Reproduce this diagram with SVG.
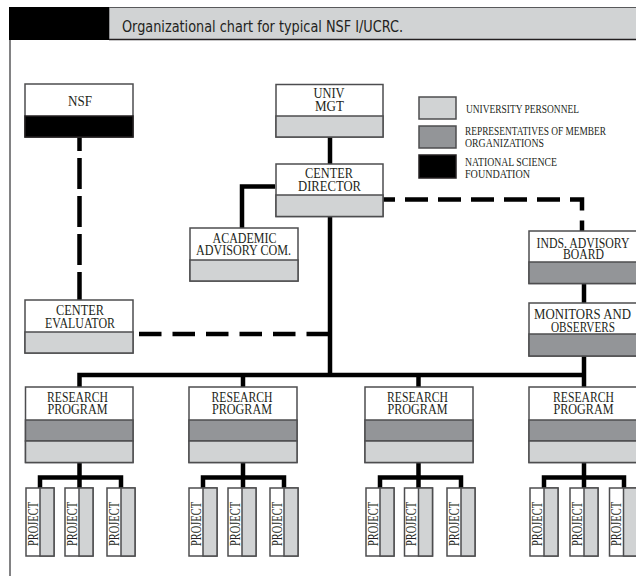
<svg xmlns="http://www.w3.org/2000/svg" width="636" height="576" viewBox="0 0 636 576">
<style>
.bg{fill:#fff}
.box{fill:#fff;stroke:#4d4d4f;stroke-width:1.5}
.lg{fill:#d1d3d4;stroke:#4d4d4f;stroke-width:1.5}
.dg{fill:#939598;stroke:#4d4d4f;stroke-width:1.5}
.bk{fill:#000;stroke:#231f20;stroke-width:1.5}
.lbl{font-family:"Liberation Serif","Times New Roman",serif;font-size:15px;fill:#231f20;text-anchor:middle}
.leg{font-family:"Liberation Serif","Times New Roman",serif;font-size:12px;fill:#231f20}
.prj{font-family:"Liberation Serif","Times New Roman",serif;font-size:14.5px;fill:#231f20;text-anchor:middle}
.ln{fill:none;stroke:#000;stroke-width:4.5}
.dsh{fill:none;stroke:#000;stroke-width:4.5}
.title{font-family:"Liberation Sans Narrow","DejaVu Sans Condensed","Liberation Sans",sans-serif;font-size:16px;fill:#231f20}
</style>
<rect class="bg" x="0" y="0" width="636" height="576"/>
<g id="header">
  <rect x="109" y="7.5" width="530" height="32" fill="#d1d3d4" stroke="#58595b" stroke-width="1"/>
  <line x1="109" y1="39.5" x2="636" y2="39.5" stroke="#231f20" stroke-width="1.5"/>
  <rect x="9" y="7" width="100" height="33" fill="#000"/>
  <text class="title" x="122" y="32" textLength="281" lengthAdjust="spacingAndGlyphs">Organizational chart for typical NSF I/UCRC.</text>
  <line x1="10" y1="40" x2="10" y2="576" stroke="#58595b" stroke-width="1.5"/>
</g>
<g id="connectors">
  <path class="ln" d="M330 137V164"/>
  <path class="ln" d="M275 186.5H242V228"/>
  <path class="ln" d="M330 216V375"/>
  <path class="ln" d="M79.5 387V375H584"/>
  <path class="ln" d="M243 375V387"/>
  <path class="ln" d="M418.5 375V387"/>
  <path class="ln" d="M584 283V303"/>
  <path class="ln" d="M584 356V387"/>
  <path class="dsh" d="M79.5 137V300" stroke-dasharray="31 7" stroke-dashoffset="17"/>
  <path class="dsh" d="M139 334H330" stroke-dasharray="22.5 11"/>
  <path class="dsh" d="M383 199.5H582V231" stroke-dasharray="23 10" stroke-dashoffset="11" stroke-linejoin="miter"/>
  <path class="ln" d="M79.5 462V488M40 488V477.5H121V488"/>
  <path class="ln" d="M243 462V488M203 488V477.5H284V488"/>
  <path class="ln" d="M418.5 462V488M380 488V477.5H461V488"/>
  <path class="ln" d="M584 462V488M544 488V477.5H624V488"/>
</g>
<g id="legend">
  <rect class="lg" x="419" y="97" width="37" height="22"/>
  <rect class="dg" x="419" y="126" width="37" height="22"/>
  <rect class="bk" x="419" y="155" width="37" height="23"/>
  <text class="leg" x="466" y="113.3" textLength="113" lengthAdjust="spacingAndGlyphs">UNIVERSITY PERSONNEL</text>
  <text class="leg" x="465" y="135" textLength="141" lengthAdjust="spacingAndGlyphs">REPRESENTATIVES OF MEMBER</text>
  <text class="leg" x="465" y="147.3" textLength="79" lengthAdjust="spacingAndGlyphs">ORGANIZATIONS</text>
  <text class="leg" x="465" y="165.7" textLength="92" lengthAdjust="spacingAndGlyphs">NATIONAL SCIENCE</text>
  <text class="leg" x="465" y="178.3" textLength="65" lengthAdjust="spacingAndGlyphs">FOUNDATION</text>
</g>
<g id="nsf">
  <rect class="box" x="25" y="84" width="108" height="53"/>
  <rect class="bk" x="25" y="116" width="108" height="21"/>
  <text class="lbl" x="80" y="106" textLength="24" lengthAdjust="spacingAndGlyphs">NSF</text>
</g>
<g id="univ-mgt">
  <rect class="box" x="276" y="84.5" width="107" height="52.5"/>
  <rect class="lg" x="276" y="116" width="107" height="21"/>
  <text class="lbl" x="329" y="98" textLength="31" lengthAdjust="spacingAndGlyphs">UNIV</text>
  <text class="lbl" x="329.5" y="111" textLength="29" lengthAdjust="spacingAndGlyphs">MGT</text>
</g>
<g id="center-director">
  <rect class="box" x="276" y="164" width="107" height="52.5"/>
  <rect class="lg" x="276" y="195" width="107" height="21.5"/>
  <text class="lbl" x="329" y="178" textLength="48" lengthAdjust="spacingAndGlyphs">CENTER</text>
  <text class="lbl" x="329.5" y="190.5" textLength="63" lengthAdjust="spacingAndGlyphs">DIRECTOR</text>
</g>
<g id="academic-advisory">
  <rect class="box" x="190" y="228" width="108" height="53"/>
  <rect class="lg" x="190" y="260" width="108" height="21"/>
  <text class="lbl" x="244.5" y="243" textLength="64" lengthAdjust="spacingAndGlyphs">ACADEMIC</text>
  <text class="lbl" x="243.5" y="255" textLength="95" lengthAdjust="spacingAndGlyphs">ADVISORY COM.</text>
</g>
<g id="center-evaluator">
  <rect class="box" x="25" y="300" width="108" height="53"/>
  <rect class="lg" x="25" y="332" width="108" height="21"/>
  <text class="lbl" x="80" y="315" textLength="48" lengthAdjust="spacingAndGlyphs">CENTER</text>
  <text class="lbl" x="80" y="328" textLength="70" lengthAdjust="spacingAndGlyphs">EVALUATOR</text>
</g>
<g id="industry-advisory-board">
  <rect class="box" x="529" y="231" width="110" height="52.5"/>
  <rect class="dg" x="529" y="262" width="110" height="21.5"/>
  <text class="lbl" x="583" y="247.5" textLength="93" lengthAdjust="spacingAndGlyphs">INDS. ADVISORY</text>
  <text class="lbl" x="583.5" y="259" textLength="41" lengthAdjust="spacingAndGlyphs">BOARD</text>
</g>
<g id="monitors-observers">
  <rect class="box" x="529" y="303" width="110" height="53"/>
  <rect class="dg" x="529" y="334" width="110" height="22"/>
  <text class="lbl" x="582.5" y="319" textLength="97" lengthAdjust="spacingAndGlyphs">MONITORS AND</text>
  <text class="lbl" x="583" y="331.5" textLength="64" lengthAdjust="spacingAndGlyphs">OBSERVERS</text>
</g>
<g id="research-1">
  <rect class="box" x="25.5" y="387" width="107.5" height="75.5"/>
  <rect class="dg" x="25.5" y="420" width="107.5" height="21"/>
  <rect class="lg" x="25.5" y="441" width="107.5" height="21.5"/>
  <text class="lbl" x="77.5" y="401.5" textLength="61" lengthAdjust="spacingAndGlyphs">RESEARCH</text>
  <text class="lbl" x="77.5" y="414" textLength="60" lengthAdjust="spacingAndGlyphs">PROGRAM</text>
</g>
<g id="research-2">
  <rect class="box" x="189" y="387" width="108" height="75.5"/>
  <rect class="dg" x="189" y="420" width="108" height="21"/>
  <rect class="lg" x="189" y="441" width="108" height="21.5"/>
  <text class="lbl" x="242" y="401.5" textLength="61" lengthAdjust="spacingAndGlyphs">RESEARCH</text>
  <text class="lbl" x="242" y="414" textLength="60" lengthAdjust="spacingAndGlyphs">PROGRAM</text>
</g>
<g id="research-3">
  <rect class="box" x="365" y="387" width="108" height="75.5"/>
  <rect class="dg" x="365" y="420" width="108" height="21"/>
  <rect class="lg" x="365" y="441" width="108" height="21.5"/>
  <text class="lbl" x="417.5" y="401.5" textLength="61" lengthAdjust="spacingAndGlyphs">RESEARCH</text>
  <text class="lbl" x="417.5" y="414" textLength="60" lengthAdjust="spacingAndGlyphs">PROGRAM</text>
</g>
<g id="research-4">
  <rect class="box" x="529" y="387" width="110" height="75.5"/>
  <rect class="dg" x="529" y="420" width="110" height="21"/>
  <rect class="lg" x="529" y="441" width="110" height="21.5"/>
  <text class="lbl" x="583.5" y="401.5" textLength="61" lengthAdjust="spacingAndGlyphs">RESEARCH</text>
  <text class="lbl" x="583.5" y="414" textLength="60" lengthAdjust="spacingAndGlyphs">PROGRAM</text>
</g>
<g id="project-1a"><rect class="box" x="26" y="488" width="28" height="68"/><rect class="lg" x="40" y="488" width="14" height="68"/><text class="prj" transform="translate(37.5 524) rotate(-90)" textLength="44" lengthAdjust="spacingAndGlyphs">PROJECT</text></g>
<g id="project-1b"><rect class="box" x="65" y="488" width="28" height="68"/><rect class="lg" x="79" y="488" width="14" height="68"/><text class="prj" transform="translate(76.5 524) rotate(-90)" textLength="44" lengthAdjust="spacingAndGlyphs">PROJECT</text></g>
<g id="project-1c"><rect class="box" x="107" y="488" width="28" height="68"/><rect class="lg" x="121" y="488" width="14" height="68"/><text class="prj" transform="translate(118.5 524) rotate(-90)" textLength="44" lengthAdjust="spacingAndGlyphs">PROJECT</text></g>
<g id="project-2a"><rect class="box" x="189" y="488" width="28" height="68"/><rect class="lg" x="203" y="488" width="14" height="68"/><text class="prj" transform="translate(200.5 524) rotate(-90)" textLength="44" lengthAdjust="spacingAndGlyphs">PROJECT</text></g>
<g id="project-2b"><rect class="box" x="228" y="488" width="28" height="68"/><rect class="lg" x="242" y="488" width="14" height="68"/><text class="prj" transform="translate(239.5 524) rotate(-90)" textLength="44" lengthAdjust="spacingAndGlyphs">PROJECT</text></g>
<g id="project-2c"><rect class="box" x="270" y="488" width="28" height="68"/><rect class="lg" x="284" y="488" width="14" height="68"/><text class="prj" transform="translate(281.5 524) rotate(-90)" textLength="44" lengthAdjust="spacingAndGlyphs">PROJECT</text></g>
<g id="project-3a"><rect class="box" x="366" y="488" width="28" height="68"/><rect class="lg" x="380" y="488" width="14" height="68"/><text class="prj" transform="translate(377.5 524) rotate(-90)" textLength="44" lengthAdjust="spacingAndGlyphs">PROJECT</text></g>
<g id="project-3b"><rect class="box" x="404.5" y="488" width="28" height="68"/><rect class="lg" x="418.5" y="488" width="14" height="68"/><text class="prj" transform="translate(416 524) rotate(-90)" textLength="44" lengthAdjust="spacingAndGlyphs">PROJECT</text></g>
<g id="project-3c"><rect class="box" x="447" y="488" width="28" height="68"/><rect class="lg" x="461" y="488" width="14" height="68"/><text class="prj" transform="translate(458.5 524) rotate(-90)" textLength="44" lengthAdjust="spacingAndGlyphs">PROJECT</text></g>
<g id="project-4a"><rect class="box" x="530" y="488" width="28" height="68"/><rect class="lg" x="544" y="488" width="14" height="68"/><text class="prj" transform="translate(541.5 524) rotate(-90)" textLength="44" lengthAdjust="spacingAndGlyphs">PROJECT</text></g>
<g id="project-4b"><rect class="box" x="570" y="488" width="28" height="68"/><rect class="lg" x="584" y="488" width="14" height="68"/><text class="prj" transform="translate(581.5 524) rotate(-90)" textLength="44" lengthAdjust="spacingAndGlyphs">PROJECT</text></g>
<g id="project-4c"><rect class="box" x="609.5" y="488" width="28" height="68"/><rect class="lg" x="623.5" y="488" width="14" height="68"/><text class="prj" transform="translate(621 524) rotate(-90)" textLength="44" lengthAdjust="spacingAndGlyphs">PROJECT</text></g>
</svg>
